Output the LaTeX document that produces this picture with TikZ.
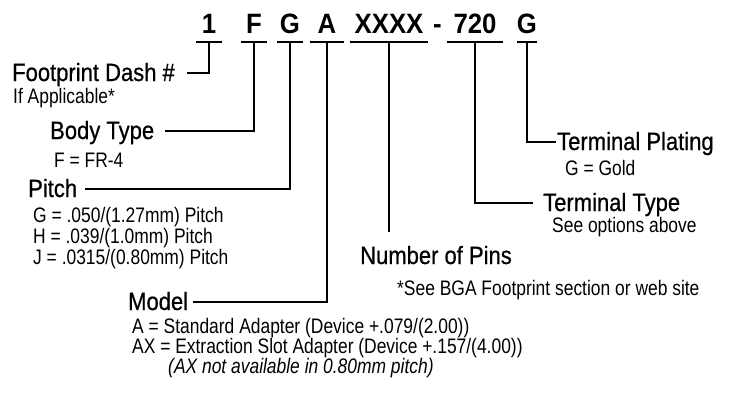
\documentclass[tikz,border=0pt]{standalone}
\usepackage{fontspec}
\setmainfont{Liberation Sans}[FakeStretch=0.88,FakeBold=0.6]
\newfontfamily\hdrfamily{Liberation Sans}[FakeStretch=0.92]
\newfontfamily\lightfamily{Liberation Sans}[FakeStretch=0.83]
\newcommand\hdrfont{\hdrfamily\bfseries\fontsize{28}{32}\selectfont}
\newcommand\lblfont{\fontsize{25}{30}\selectfont}
\newcommand\sublabelfont{\lightfamily\fontsize{21}{24}\selectfont}
\usetikzlibrary{calc}

\tikzset{
  hdr/.style={font=\hdrfont,inner sep=0pt,anchor=base,text depth=9pt},
  lbl/.style={font=\lblfont,inner sep=0pt,anchor=base west,text height=17pt,text depth=0pt},
  sub/.style={font=\sublabelfont,inner sep=0pt,anchor=base west},
  lead/.style={line width=2pt}
}

\begin{document}
\begin{tikzpicture}[x=1pt,y=-1pt]
\useasboundingbox (0,0) rectangle (731,392);
% part number
\foreach \nm/\cx/\uw/\txt in {n1/209/25pt/1, n2/254/25pt/F, n3/290/25pt/G, n4/327/33pt/A, n5/389/77pt/XXXX, n7/475/56pt/720, n8/527/20pt/G}{
  \node[hdr,minimum width=\uw] (\nm) at (\cx,33) {\txt};
  \draw[lead] (\nm.south west) -- (\nm.south east);
}
\node[hdr] (dash) at (437.5,33) {-};
% labels
\node[lbl] (fp) at (12,81) {Footprint Dash \#};
\node[sub] (fpsub) at (13,103) {If Applicable*};
\node[lbl] (body) at (50,139) {Body Type};
\node[sub] (bodysub) at (54,167) {F = FR-4};
\node[lbl] (pitch) at (28,197) {Pitch};
\node[sub] (pitchg) at (33,222) {G = .050/(1.27mm) Pitch};
\node[sub] (pitchh) at (33,243) {H = .039/(1.0mm) Pitch};
\node[sub] (pitchj) at (33,264) {J = .0315/(0.80mm) Pitch};
\node[lbl] (model) at (128,310) {Model};
\node[sub] (modela) at (132,333) {A = Standard Adapter (Device +.079/(2.00))};
\node[sub] (modelax) at (132,353) {AX = Extraction Slot Adapter (Device +.157/(4.00))};
\node[sub,font=\sublabelfont\itshape] (modelnote) at (168,373) {(AX not available in 0.80mm pitch)};
\node[lbl] (pins) at (360,264) {Number of Pins};
\node[sub] (note) at (397,295) {*See BGA Footprint section or web site};
\node[lbl] (ttype) at (543,211) {Terminal Type};
\node[sub] (ttypesub) at (552,232) {See options above};
\node[lbl] (tplate) at (557,150) {Terminal Plating};
\node[sub] (tplatesub) at (565,175) {G = Gold};
% leaders
\coordinate (pinsend) at (389,232);
\draw[lead,shorten >=12pt] (n1.south) |- (fp.east);
\draw[lead,shorten >=11pt] (n2.south) |- (body.east);
\draw[lead,shorten >=8pt] (n3.south) |- (pitch.east);
\draw[lead,shorten >=5pt] (n4.south) |- (model.east);
\draw[lead] (n5.south) -- (pinsend);
\draw[lead,shorten >=10pt] (n7.south) |- (ttype.west);
\draw[lead,shorten >=1pt] (n8.south) |- (tplate.west);
\end{tikzpicture}
\end{document}
